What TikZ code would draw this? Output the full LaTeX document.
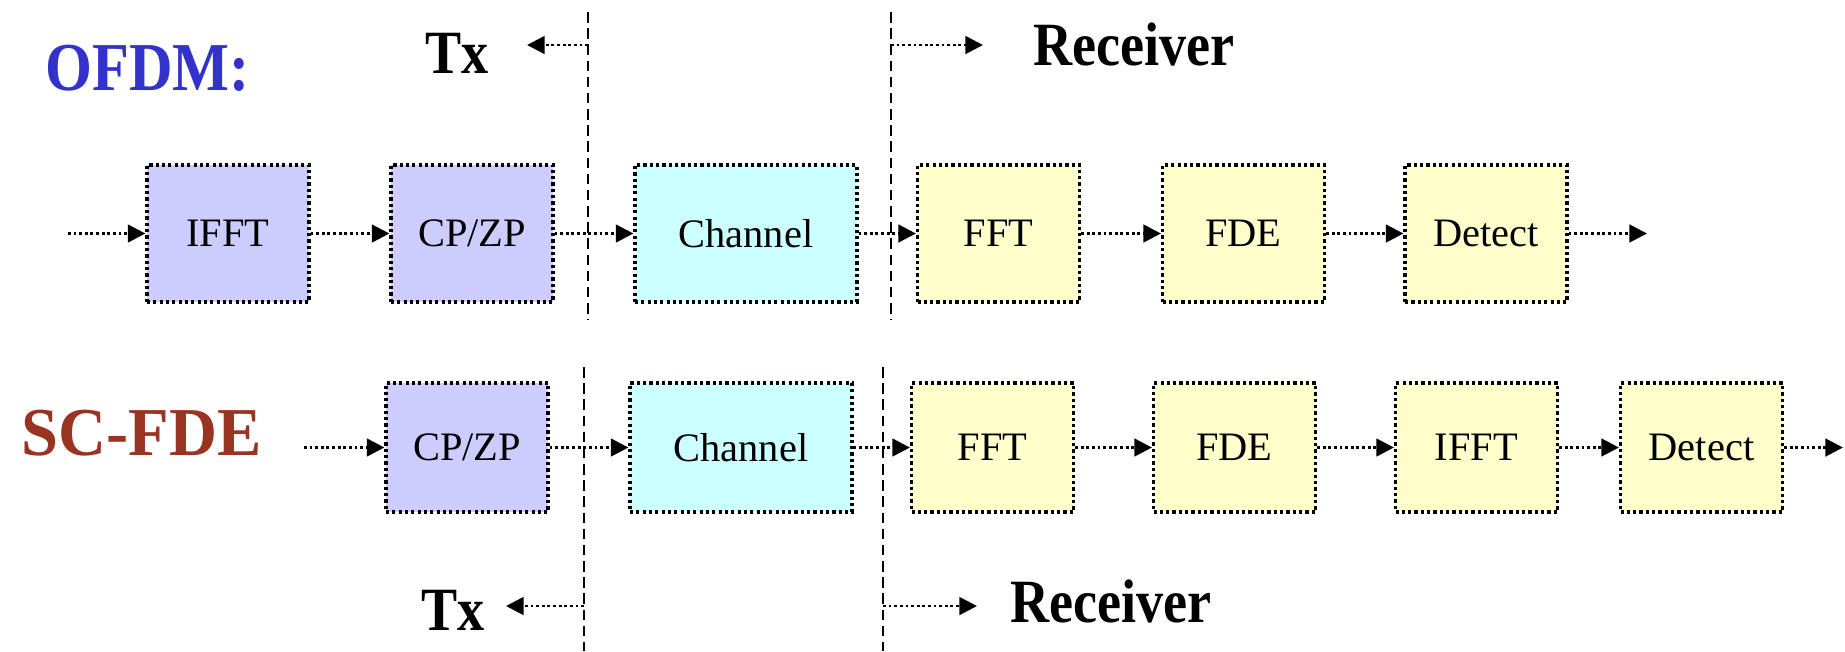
\documentclass[tikz,border=0pt]{standalone}
\usepackage{fontspec}
\setmainfont{Liberation Serif}
\usetikzlibrary{arrows.meta}

\definecolor{txblue}{RGB}{204,204,255}
\definecolor{chcyan}{RGB}{204,255,255}
\definecolor{rxyellow}{RGB}{255,255,204}
\definecolor{ofdmblue}{RGB}{51,51,204}
\definecolor{scred}{RGB}{153,51,34}

\tikzset{
  blk/.style={draw, line width=0.9pt, dash pattern=on 0.9pt off 0.9pt,
    inner sep=0pt, minimum width=16.2mm, font=\fontsize{11.5}{12}\selectfont},
  txblk/.style={blk, fill=txblue},
  chblk/.style={blk, fill=chcyan, minimum width=22.2mm},
  rxblk/.style={blk, fill=rxyellow},
  flow/.style={-{Triangle[length=5pt,width=5pt]}, line width=0.8pt,
    dash pattern=on 0.8pt off 0.8pt},
  border/.style={line width=0.6pt, dash pattern=on 3pt off 1.6pt},
  side/.style={font=\fontsize{17.5}{18}\selectfont\bfseries, anchor=base,
    inner sep=0pt, xscale=0.88, transform shape},
  title/.style={font=\fontsize{19.5}{20}\selectfont\bfseries, anchor=base west,
    inner sep=0pt}
}

\begin{document}
\begin{tikzpicture}[x=0.1mm, y=-0.1mm]
\useasboundingbox (0,0) rectangle (1845,651);

% 1. 标题
\node[title, text=ofdmblue, xscale=0.88, transform shape] (ofdm) at (45,90) {OFDM:};
\node[title, text=scred, xscale=0.97, transform shape] (scfde) at (21,455) {SC-FDE};

% 2. OFDM 一行
\begin{scope}[every node/.append style={minimum height=13.7mm}]
\node[txblk] (ifft1) at (228,233.5) {IFFT};
\node[txblk] (cp1) at (472,233.5) {CP/ZP};
\node[chblk] (ch1) at (746,233.5) {Channel};
\node[rxblk] (fft1) at (998.5,233.5) {FFT};
\node[rxblk] (fde1) at (1243.5,233.5) {FDE};
\node[rxblk] (det1) at (1486,233.5) {Detect};
\end{scope}
\coordinate (in1) at (68,233.5);
\coordinate (out1) at (1647,233.5);
\foreach \a/\b in {in1/ifft1, ifft1/cp1, cp1/ch1, ch1/fft1, fft1/fde1, fde1/det1, det1/out1}
  {\draw[flow] (\a) -- (\b);}

% 3. SC-FDE 一行
\begin{scope}[every node/.append style={minimum height=12.9mm}]
\node[txblk] (cp2) at (467,447.5) {CP/ZP};
\node[chblk] (ch2) at (741,447.5) {Channel};
\node[rxblk] (fft2) at (992.5,447.5) {FFT};
\node[rxblk] (fde2) at (1234.5,447.5) {FDE};
\node[rxblk] (ifft2) at (1476.5,447.5) {IFFT};
\node[rxblk] (det2) at (1701.5,447.5) {Detect};
\end{scope}
\coordinate (in2) at (304,447.5);
\coordinate (out2) at (1843,447.5);
\foreach \a/\b in {in2/cp2, cp2/ch2, ch2/fft2, fft2/fde2, fde2/ifft2, ifft2/det2, det2/out2}
  {\draw[flow] (\a) -- (\b);}

% 4. 收发分界线
\draw[border] (588,12) -- (588,320);
\draw[border] (891,12) -- (891,320);
\draw[border] (584,367) -- (584,651);
\draw[border] (883,367) -- (883,651);

% 5. Tx / Receiver
\node[side] (tx1) at (457,73) {Tx};
\node[side] (rx1) at (1134,65) {Receiver};
\node[side] (tx2) at (453,630) {Tx};
\node[side] (rx2) at (1111,622) {Receiver};
\draw[flow] (588,45) -- (527,45);
\draw[flow] (891,45) -- (983,45);
\draw[flow] (584,606) -- (506,606);
\draw[flow] (883,606) -- (977,606);
\end{tikzpicture}
\end{document}
